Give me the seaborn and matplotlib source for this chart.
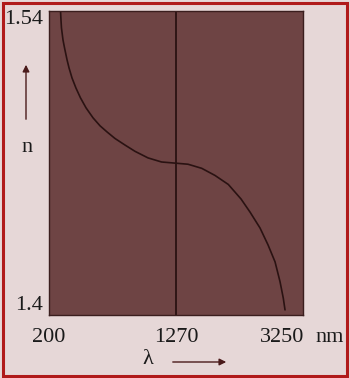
import numpy as np
import pandas as pd
import matplotlib
matplotlib.use("Agg")
import matplotlib.pyplot as plt
from matplotlib.patches import Rectangle, FancyArrowPatch
import seaborn as sns

# ---- data ----
wavelength_nm = [297, 301, 305, 318, 331, 352, 369, 394, 427, 465, 512, 571,
                 630, 689, 756, 840, 925, 1034, 1148, 1270,
                 1494, 1750, 1999, 2247, 2484, 2652, 2839, 2989, 3120, 3213,
                 3274, 3306]
refr_index = [1.5429, 1.5385, 1.5346, 1.5287, 1.5248, 1.5190, 1.5150, 1.5101,
              1.5052, 1.5004, 1.4955, 1.4906, 1.4867, 1.4837, 1.4805, 1.4773,
              1.4742, 1.4710, 1.4690, 1.4684,
              1.4679, 1.4659, 1.4624, 1.4580, 1.4509, 1.4445, 1.4367, 1.4284,
              1.4201, 1.4104, 1.4023, 1.3966]
x_ticks = [200, 1270, 3250]
x_tick_labels = ["200", "1270", "3250"]
y_ticks = [1.4, 1.54]
y_tick_labels = ["1.4", "1.54"]
marker_wavelength = 1270

df = pd.DataFrame({"wavelength": wavelength_nm, "n": refr_index})

sns.set_style("white")
plt.rcParams["font.family"] = ["Liberation Serif", "DejaVu Serif"]

BG = "#e6d7d7"
PLOT_BG = "#6e4444"
DARK = "#2a1212"
BORDER = "#b01a1a"
TXT = "#1a1a1a"

fig = plt.figure(figsize=(3.5, 3.78), dpi=100, facecolor=BG)
ax = fig.add_axes([49 / 350, 1 - 315 / 378, 254 / 350, 304 / 378])
ax.set_facecolor(PLOT_BG)

# schematic (non-linear) wavelength axis
def fwd(x):
    x = np.asarray(x, dtype=float)
    return np.where(x <= 1270, (x - 200) / 1070 * 127, 127 + (x - 1270) / 1980 * 106)

def inv(p):
    p = np.asarray(p, dtype=float)
    return np.where(p <= 127, 200 + p / 127 * 1070, 1270 + (p - 127) / 106 * 1980)

ax.set_xscale("function", functions=(fwd, inv))

sns.lineplot(data=df, x="wavelength", y="n", ax=ax, color=DARK, lw=1.2,
             sort=False, estimator=None)
ax.axvline(marker_wavelength, color=DARK, lw=1.3)

ax.set_xlim(200, 3642)
ax.set_ylim(1.3941, 1.5429)
ax.set_xticks(x_ticks)
ax.set_xticklabels(x_tick_labels)
ax.set_yticks(y_ticks)
ax.set_yticklabels(y_tick_labels)
ax.tick_params(axis="both", length=0, labelsize=16, colors=TXT)
ax.tick_params(axis="x", pad=9)
ax.tick_params(axis="y", pad=4)
ax.set_xlabel("")
ax.set_ylabel("")
for s in ax.spines.values():
    s.set_color("#3a1e1e")
    s.set_linewidth(1.0)

# unit next to last tick label
ax.annotate("nm", xy=(3250, 1.3941), xycoords="data", xytext=(24, -16.5),
            textcoords="offset points", ha="left", va="center", fontsize=16,
            color=TXT, annotation_clip=False)

# axis name labels with arrows (figure pixels)
def fx(px):
    return px / 350

def fy(py):
    return 1 - py / 378

fig.text(fx(27), fy(148), "n", ha="center", va="center", fontsize=16, color=TXT)
fig.patches.append(FancyArrowPatch(
    (fx(26), fy(122)), (fx(26), fy(62)), transform=fig.transFigure,
    arrowstyle="-|>,head_length=4,head_width=2", color="#4a1a1a", lw=1.0))
fig.text(fx(148), fy(359), "λ", ha="center", va="center", fontsize=16, color=TXT)
fig.patches.append(FancyArrowPatch(
    (fx(170), fy(362)), (fx(229), fy(362)), transform=fig.transFigure,
    arrowstyle="-|>,head_length=4,head_width=2", color="#4a1a1a", lw=1.0))

# red frame
fig.patches.append(Rectangle((fx(2.5), fy(376)), (347 - 2.5) / 350, (376 - 2.5) / 378,
                             transform=fig.transFigure, fill=False,
                             edgecolor=BORDER, lw=2.2))

fig.savefig("out.png", dpi=100, facecolor=BG)
